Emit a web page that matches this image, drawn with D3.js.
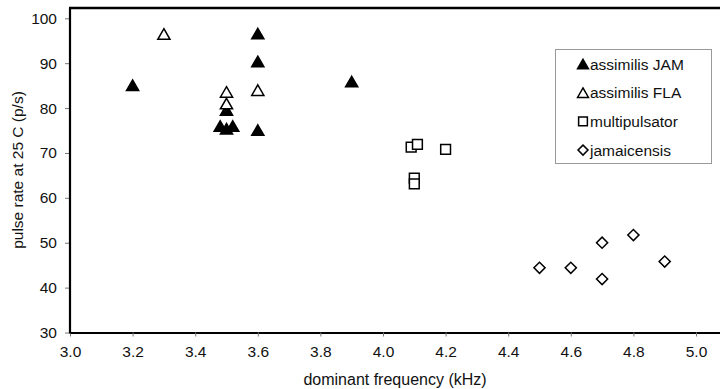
<!DOCTYPE html>
<html>
<head>
<meta charset="utf-8">
<script src="https://cdn.jsdelivr.net/npm/d3@7"></script>
<style>
    body { margin: 0; background: #fff; }
    svg { display: block; font-family: "Liberation Sans", Arial, sans-serif; }
</style>
</head>
<body>
<div id="chart"></div>
<script>

var xTicks = [3.0, 3.2, 3.4, 3.6, 3.8, 4.0, 4.2, 4.4, 4.6, 4.8, 5.0];
var yTicks = [30, 40, 50, 60, 70, 80, 90, 100];

var seriesNames = ['assimilis JAM', 'assimilis FLA', 'multipulsator', 'jamaicensis'];

// [dominant frequency kHz, pulse rate p/s]
var assimilisJAM = [[3.2, 85.1], [3.6, 96.6], [3.6, 90.4], [3.6, 75.1], [3.9, 85.9],
    [3.5, 79.6], [3.48, 76.0], [3.52, 76.0], [3.5, 75.4]];
var assimilisFLA = [[3.3, 96.5], [3.5, 83.6], [3.5, 81.0], [3.6, 84.0]];
var multipulsator = [[4.09, 71.3], [4.11, 71.9], [4.2, 70.8], [4.1, 64.4], [4.1, 63.1]];
var jamaicensis = [[4.5, 44.4], [4.6, 44.4], [4.7, 50.0], [4.7, 41.9], [4.8, 51.7], [4.9, 45.8]];

var WIDTH = 720;
var HEIGHT = 389;

var svg = d3.select('#chart').append('svg')
    .attr('width', WIDTH)
    .attr('height', HEIGHT);

var xScale = d3.scaleLinear().domain([3.0, 5.2]).range([70, 758.6]);
var yScale = d3.scaleLinear().domain([30, 100]).range([332.5, 18.3]);

var styles = [
    {symbol: d3.symbolTriangle, size: 64, fill: '#000', rotate: 0},
    {symbol: d3.symbolTriangle, size: 64, fill: '#fff', rotate: 0},
    {symbol: d3.symbolSquare, size: 96, fill: '#fff', rotate: 0},
    {symbol: d3.symbolSquare, size: 62, fill: '#fff', rotate: 45}
];
var allSeries = [assimilisJAM, assimilisFLA, multipulsator, jamaicensis];

function _markerPath(st) {
    return d3.symbol().type(st.symbol).size(st.size)();
}

function _markerTransform(st, x, y) {
    // centre triangles on their bounding box, like the spreadsheet markers
    var dy = st.symbol === d3.symbolTriangle ? Math.sqrt(st.size / (Math.sqrt(3) * 3)) / 2 : 0;
    return 'translate(' + x + ',' + (y + dy) + ') rotate(' + st.rotate + ')';
}

// axes
var xAxis = d3.axisBottom(xScale)
    .tickValues(xTicks)
    .tickFormat(d3.format('.1f'))
    .tickSize(4)
    .tickSizeOuter(0);
var gx = svg.append('g')
    .attr('transform', 'translate(0,' + yScale(30) + ')')
    .call(xAxis);
gx.select('.domain').attr('stroke', '#000').attr('stroke-width', 2.2);
gx.selectAll('.tick line').attr('stroke', '#777');
gx.selectAll('.tick text').attr('dy', '1.1em').attr('font-size', 15.5).attr('fill', '#111').style('font-family', 'inherit');

var yAxis = d3.axisLeft(yScale)
    .tickValues(yTicks)
    .tickSize(5)
    .tickSizeOuter(0);
var gy = svg.append('g')
    .attr('transform', 'translate(' + xScale(3.0) + ',0)')
    .call(yAxis);
gy.select('.domain').remove();
gy.selectAll('.tick line').attr('stroke', '#777');
gy.selectAll('.tick text').attr('x', -13).attr('font-size', 15.5).attr('fill', '#111').style('font-family', 'inherit');

// plot frame: left and top edges
svg.append('line')
    .attr('x1', xScale(3.0)).attr('x2', xScale(3.0))
    .attr('y1', 8).attr('y2', yScale(30) + 1)
    .attr('stroke', '#000').attr('stroke-width', 2.2);
svg.append('line')
    .attr('x1', xScale(3.0) - 1).attr('x2', WIDTH)
    .attr('y1', 8).attr('y2', 8)
    .attr('stroke', '#000').attr('stroke-width', 2.6);

// points
allSeries.forEach(function (data, i) {
    var st = styles[i];
    svg.append('g').selectAll('path')
        .data(data)
        .enter().append('path')
        .attr('d', _markerPath(st))
        .attr('transform', function (d) {
            return _markerTransform(st, xScale(d[0]), yScale(d[1]));
        })
        .attr('fill', st.fill)
        .attr('stroke', '#000')
        .attr('stroke-width', 1.5);
});

// axis titles
svg.append('text')
    .attr('x', 395)
    .attr('y', 385)
    .attr('text-anchor', 'middle')
    .attr('font-size', 16)
    .attr('fill', '#111')
    .text('dominant frequency (kHz)');

svg.append('text')
    .attr('transform', 'translate(23,170) rotate(-90)')
    .attr('text-anchor', 'middle')
    .attr('font-size', 15.5)
    .attr('fill', '#111')
    .text('pulse rate at 25 C (p/s)');

// legend
var legend = svg.append('g');
legend.append('rect')
    .attr('x', 555.5).attr('y', 49.5)
    .attr('width', 156).attr('height', 114)
    .attr('fill', '#fff')
    .attr('stroke', '#999')
    .attr('stroke-width', 1);

var legendStyles = styles.map(function (st) {
    return {symbol: st.symbol, size: st.size * 0.8, fill: st.fill, rotate: st.rotate};
});

seriesNames.forEach(function (name, i) {
    var cy = 64 + i * 28.7;
    legend.append('path')
        .attr('d', _markerPath(legendStyles[i]))
        .attr('transform', _markerTransform(legendStyles[i], 583, cy))
        .attr('fill', legendStyles[i].fill)
        .attr('stroke', '#000')
        .attr('stroke-width', 1.5);
    legend.append('text')
        .attr('x', 590)
        .attr('y', cy + 5.5)
        .attr('font-size', 15.5)
        .attr('fill', '#111')
        .text(name);
});

</script>
</body>
</html>
